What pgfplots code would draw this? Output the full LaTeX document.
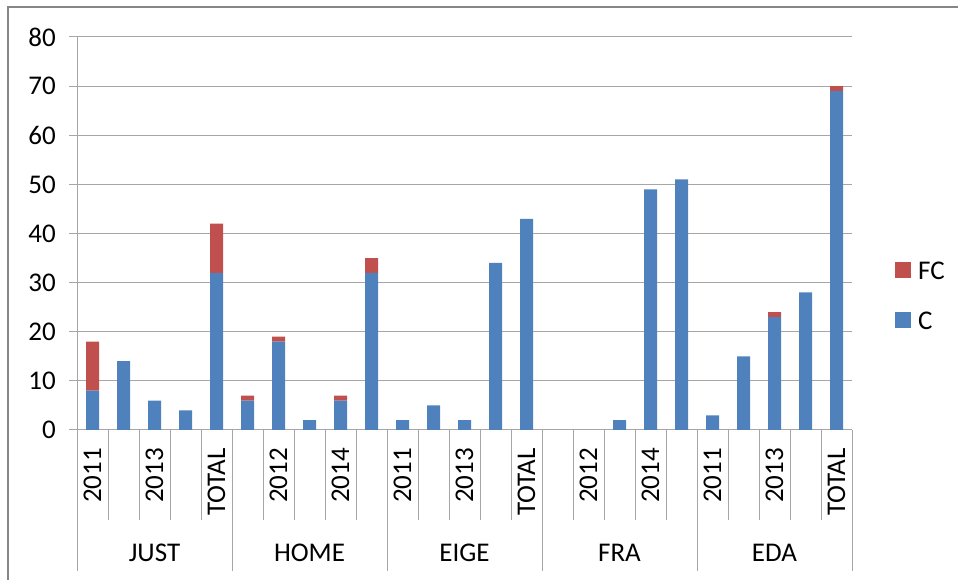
\documentclass[border=0pt]{standalone}
\usepackage{pgfplots}
\pgfplotsset{compat=1.18}
\usepackage{pgfplotstable}
\usepackage{fontspec}
\setmainfont{Carlito}
\definecolor{cblue}{HTML}{4F81BD}
\definecolor{cred}{HTML}{C0504D}
\definecolor{gridgray}{HTML}{A6A6A6}
\definecolor{framegray}{HTML}{868686}
\pgfplotstableread{
x C FC
0 8 10
1 14 0
2 6 0
3 4 0
4 32 10
5 6 1
6 18 1
7 2 0
8 6 1
9 32 3
10 2 0
11 5 0
12 2 0
13 34 0
14 43 0
15 0 0
16 0 0
17 2 0
18 49 0
19 51 0
20 3 0
21 15 0
22 23 1
23 28 0
24 69 1
}\datatable
\begin{document}
\fontsize{27bp}{32bp}\selectfont
\begin{tikzpicture}[x=1bp,y=1bp]
\useasboundingbox (0,0) rectangle (958,580);
\draw[framegray, line width=2.5bp] (8,0) -- (8,573) -- (958,573);
\begin{axis}[
  at={(77bp,150bp)}, anchor=south west,
  scale only axis, width=775bp, height=393bp,
  xmin=-0.5, xmax=24.5, ymin=0, ymax=80,
  ybar stacked, bar width=13bp,
  axis x line*=bottom, axis y line*=left,
  axis line style={gridgray, line width=1bp},
  ytick={0,10,...,80},
  ymajorgrids, grid style={gridgray, line width=1bp},
  major tick length=8bp, tick align=outside,
  ytick style={gridgray, line width=1bp},
  xtick style={draw=none},
  /pgf/number format/assume math mode=true,
  yticklabel style={inner sep=0pt, anchor=east, xshift=-13bp},
  xtick={0,...,24},
  xticklabels={2011,,2013,,TOTAL,,2012,,2014,,2011,,2013,,TOTAL,,2012,,2014,,2011,,2013,,TOTAL},
  xticklabel style={rotate=90, anchor=east, inner sep=0pt},
  xticklabel shift=10bp,
  reverse legend,
  legend image code/.code={\fill[#1] (0bp,-7bp) rectangle (16bp,9bp);},
  legend style={at={(1.0555,0.4275)}, anchor=north west, draw=none, fill=none,
    inner sep=0pt, row sep=32bp, column sep=7bp,
    nodes={inner sep=0pt, text depth=0pt}},
  legend cell align=left,
]
\addplot[fill=cblue, draw=none] table[x=x, y=C] {\datatable};
\addplot[fill=cred, draw=none] table[x=x, y=FC] {\datatable};
\legend{C,FC}
\end{axis}
\foreach \k in {0,...,25} \draw[gridgray, line width=1bp] ({77+31*\k},150) -- ({77+31*\k},60);
\foreach \k in {0,5,...,25} \draw[gridgray, line width=1bp] ({77+31*\k},150) -- ({77+31*\k},9);
\node[anchor=base, inner sep=0pt] at (154.5,18) {JUST};
\node[anchor=base, inner sep=0pt] at (309.5,18) {HOME};
\node[anchor=base, inner sep=0pt] at (464.5,18) {EIGE};
\node[anchor=base, inner sep=0pt] at (619.5,18) {FRA};
\node[anchor=base, inner sep=0pt] at (774.5,18) {EDA};
\end{tikzpicture}
\end{document}
